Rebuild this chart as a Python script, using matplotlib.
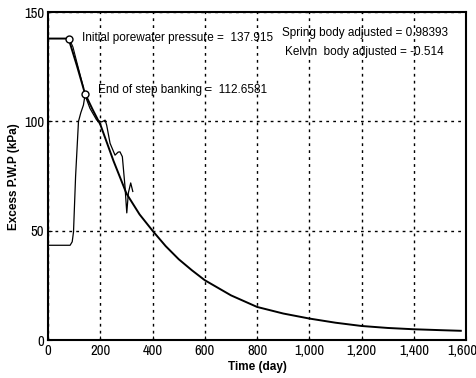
import matplotlib
matplotlib.use('Agg')
import matplotlib.pyplot as plt
import matplotlib.transforms as mtransforms
from matplotlib.ticker import FuncFormatter

plt.rcParams['font.family'] = ['Liberation Sans', 'DejaVu Sans']
narrow = ['Archivo Narrow', 'Liberation Sans', 'DejaVu Sans']

# fitted (theoretical) curve
fit_days = [0, 78, 110, 141, 170, 200, 250, 300, 350, 400, 450, 500, 550, 600,
            700, 800, 900, 1000, 1100, 1200, 1300, 1400, 1500, 1580]
fit_pwp = [137.9, 137.9, 125.5, 112.7, 105.5, 98.5, 82, 67, 57.5, 50, 43, 37, 32, 27.4,
           20.5, 15.2, 12.2, 9.9, 8.0, 6.5, 5.6, 5.0, 4.6, 4.3]

# measured pore water pressure
meas_days = [0, 84, 92, 97, 105, 116, 125, 135, 141, 160, 186, 205, 218, 224, 237,
             256, 268, 275, 284, 294, 301, 307, 316, 324]
meas_pwp = [43.4, 43.4, 45, 49.5, 75, 100, 104, 107.5, 112, 106, 100.6, 99.8, 100.6, 98.3,
            90, 84.6, 86, 86.1, 83.9, 70.4, 58.2, 67.3, 71.9, 68]

# loading step line between the two markers
step_days = [82, 95, 110, 135]
step_pwp = [137.5, 134, 127, 115.5]

marker_days = [78, 141]
marker_pwp = [137.915, 112.6581]

fig = plt.figure(figsize=(4.77, 3.78), dpi=100)
ax = fig.add_axes([0.101, 0.1, 0.876, 0.868])

ax.plot(fit_days, fit_pwp, color='black', linewidth=1.4)
ax.plot(meas_days, meas_pwp, color='black', linewidth=0.9)
ax.plot(step_days, step_pwp, color='black', linewidth=0.8)
ax.plot(marker_days, marker_pwp, linestyle='none', marker='o', markersize=5,
        markerfacecolor='white', markeredgecolor='black', markeredgewidth=1)

ax.text(128, 138, 'Initial porewater pressure =  137.915', fontsize=8.5, va='center')
ax.text(190, 114.3, 'End of step banking =  112.6581', fontsize=8.5, va='center')
ax.text(895, 140.4, 'Spring body adjusted = 0.98393', fontsize=8.5, va='center')
ax.text(908, 131.7, 'Kelvin  body adjusted = -0.514', fontsize=8.5, va='center')

ax.set_xlim(0, 1600)
ax.set_ylim(0, 150)
ax.set_xticks(range(0, 1601, 200))
ax.set_yticks([0, 50, 100, 150])
ax.xaxis.set_major_formatter(FuncFormatter(lambda v, p: f'{int(v):,}'))
ax.grid(True, color='black', linestyle=(0, (2, 3)), linewidth=1)
ax.tick_params(labelsize=10.5, length=3, direction='in', pad=3)
for lab in ax.get_xticklabels() + ax.get_yticklabels():
    lab.set_family(narrow)
last = ax.get_xticklabels()[-1]
last.set_transform(last.get_transform() + mtransforms.ScaledTranslation(-4 / 100, 0, fig.dpi_scale_trans))
for s in ax.spines.values():
    s.set_linewidth(1.5)

ax.set_xlabel('Time (day)', fontsize=8.5, fontweight='bold', labelpad=2)
ax.set_ylabel('Excess P.W.P (kPa)', fontsize=8.5, fontweight='bold', labelpad=3)

fig.savefig('out.png', dpi=100)
